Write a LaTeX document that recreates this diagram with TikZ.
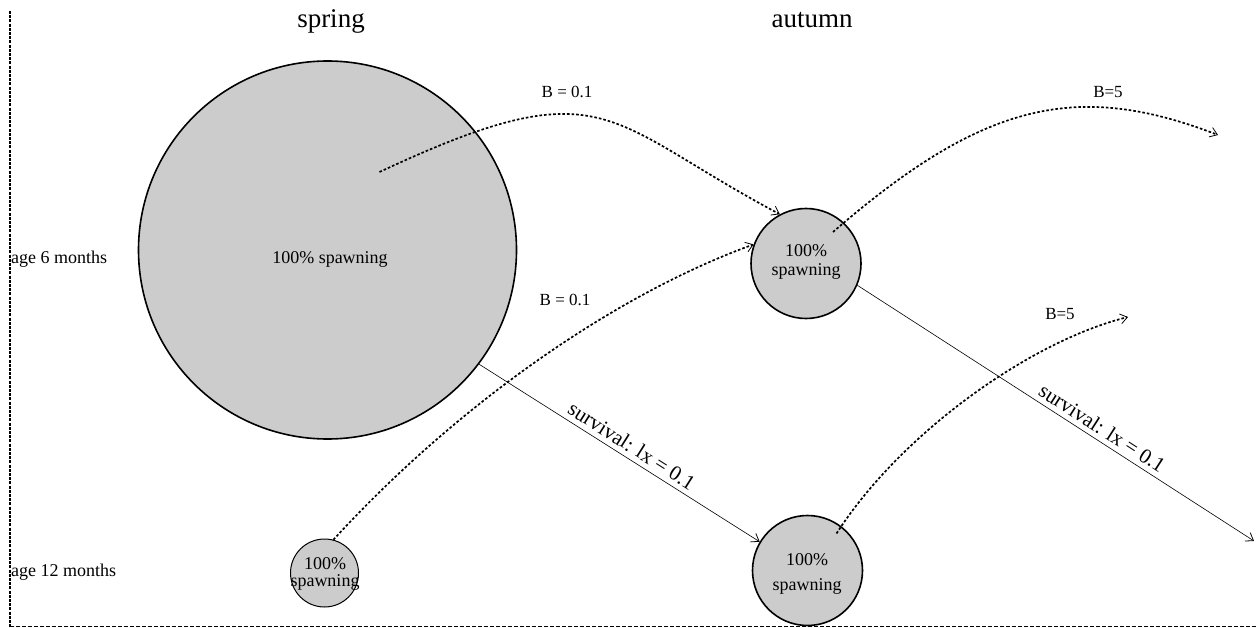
\documentclass[tikz,border=0pt]{standalone}
\usepackage{fontspec}
\setmainfont{Liberation Serif}
\usetikzlibrary{arrows.meta}
\definecolor{cellgray}{RGB}{204,204,204}
\begin{document}
\begin{tikzpicture}[x=1pt,y=-1pt,
  blob/.style={circle, draw=black, fill=cellgray, line width=1.6pt, inner sep=0pt},
  tip/.style={-{Straight Barb[length=7pt,width=10pt,line width=0.8pt]}},
  flow/.style={tip, line width=1.7pt, dash pattern=on 2.6pt off 2pt},
  surv/.style={tip, line width=0.6pt},
  title/.style={font=\fontsize{27}{30}\selectfont, anchor=base},
  txt/.style={font=\fontsize{18}{20}\selectfont, inner sep=0pt},
  blab/.style={font=\fontsize{17}{20}\selectfont, inner sep=0pt},
  survlab/.style={font=\fontsize{21}{24}\selectfont, sloped, above, inner sep=5pt},
  frame/.style={line width=1.6pt, dash pattern=on 3pt off 1.2pt},
  baseline/.style={line width=0.7pt, dash pattern=on 4pt off 2pt}]
\useasboundingbox (0,0) rectangle (1257,628);

% frame: age axis on the left, time axis at the bottom
\draw[frame] (10,11) -- (10,627);
\draw[baseline] (10,626.5) -- (1257,626.5);

% season headings
\node[title] (spring) at (331,28) {spring};
\node[title] (autumn) at (812,28) {autumn};

% age rows
\node[txt, anchor=west] (age6) at (11,259) {age 6 months};
\node[txt, anchor=west] (age12) at (11,572) {age 12 months};

% cohorts
\node[blob, minimum size=378pt] (big) at (327.5,250) {};
\node[blob, minimum size=110pt] (a6) at (806,263.5) {};
\node[blob, minimum size=110pt] (a12) at (807.5,570.5) {};
\node[blob, minimum size=68pt, line width=1pt] (s12) at (324.5,573) {};

\node[txt] (bigtxt) at (330,259) {100\% spawning};
\node[txt, align=center, font=\fontsize{18}{19}\selectfont] (a6txt) at (806,262) {100\%\\spawning};
\node[txt, align=center, font=\fontsize{18}{25}\selectfont] (a12txt) at (807,574) {100\%\\spawning};
\node[txt, align=center, font=\fontsize{18}{17}\selectfont] (s12txt) at (325,574) {100\%\\spawning};

% free ends of the outgoing arrows
\coordinate (outA) at (1218,135);
\coordinate (outB) at (1128,317);
\coordinate (outC) at (1254,541);

% reproduction (dotted)
\draw[flow] ([shift={(52,-78)}]big.center) .. controls +(227,-106) and +(-177,-94) .. (a6.118);
\draw[flow] (s12.75) .. controls +(122,-133) and +(-141,51) .. (a6.160);
\draw[flow] ([shift={(27,-31.5)}]a6.center) .. controls +(151,-131) and +(-140,-54) .. (outA);
\draw[flow] ([shift={(29,-37)}]a12.center) .. controls +(65,-101) and +(-97,24) .. (outB);

\node[blab] (b1) at (567,92) {B = 0.1};
\node[blab] (b2) at (565,300) {B = 0.1};
\node[blab] (b3) at (1108,92) {B=5};
\node[blab] (b4) at (1060,314) {B=5};

% survival (solid)
\draw[surv] (big.-37) -- node[survlab, pos=0.52] {survival: lx = 0.1} (a12.149);
\draw[surv] (a6.-23) -- node[survlab, pos=0.6] {survival: lx = 0.1} (outC);
\end{tikzpicture}
\end{document}
